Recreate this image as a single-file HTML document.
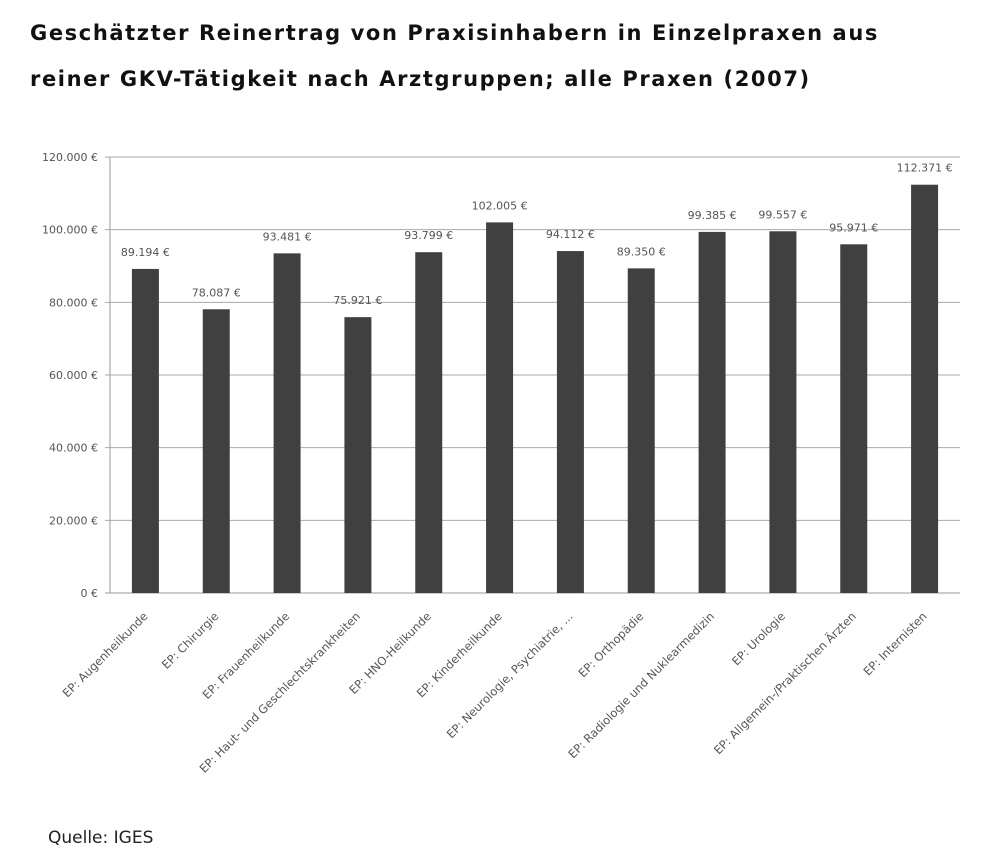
<!DOCTYPE html>
<html><head><meta charset="utf-8"><style>
body{margin:0;background:#fff;width:1000px;height:863px;overflow:hidden;font-family:"DejaVu Sans","Liberation Sans",sans-serif;}
h1{position:absolute;left:30px;top:10px;margin:0;font-size:21px;font-weight:bold;line-height:46px;color:#111;font-family:"DejaVu Sans",sans-serif;letter-spacing:1.6px;white-space:nowrap}
#src{position:absolute;left:48px;top:828px;font-size:17px;color:#222;font-family:"DejaVu Sans",sans-serif}
</style></head><body>
<h1>Geschätzter Reinertrag von Praxisinhabern in Einzelpraxen aus<br>reiner GKV-Tätigkeit nach Arztgruppen; alle Praxen (2007)</h1>
<svg id="chart" width="1000" height="863" style="position:absolute;left:0;top:0"></svg>
<div id="src">Quelle: IGES</div>
<script>
const categories=["EP: Augenheilkunde","EP: Chirurgie","EP: Frauenheilkunde","EP: Haut- und Geschlechtskrankheiten","EP: HNO-Heilkunde","EP: Kinderheilkunde","EP: Neurologie, Psychiatrie, ...","EP: Orthopädie","EP: Radiologie und Nuklearmedizin","EP: Urologie","EP: Allgemein-/Praktischen Ärzten","EP: Internisten"];
const values=[89194,78087,93481,75921,93799,102005,94112,89350,99385,99557,95971,112371];
const ticks=[0,20000,40000,60000,80000,100000,120000];
const NS="http://www.w3.org/2000/svg";
const svg=document.getElementById('chart');
const x0=110,x1=960,yTop=157,yBot=593,yMax=120000;
const slot=(x1-x0)/categories.length;
const y=v=>yBot-(v/yMax)*(yBot-yTop);
const xc=i=>x0+slot*(i+0.5);
const fmt=v=>v.toLocaleString('de-DE')+' €';
function mk(t,a){const e=document.createElementNS(NS,t);for(const k in a)e.setAttribute(k,a[k]);svg.appendChild(e);return e;}
ticks.forEach(t=>{
 const l=mk('line',{x1:x0-5,x2:x1,y1:y(t),y2:y(t),stroke:t===0?'#999':'#aaa','stroke-width':1});
 
 
 const tx=mk('text',{x:x0-12,y:y(t)+4,'text-anchor':'end','font-size':11,fill:'#555'});
 tx.textContent=fmt(t);
 
 
});
const ax=mk('line',{x1:x0,x2:x0,y1:yTop,y2:yBot,stroke:'#999'});


values.forEach((v,i)=>{
 const r=mk('rect',{x:xc(i)-13.5,y:y(v),width:27,height:yBot-y(v),fill:'#404040'});
 
 
 const t=mk('text',{x:xc(i),y:y(v)-13,'text-anchor':'middle','font-size':11,fill:'#555'});
 t.textContent=fmt(v);
 
 
 const c=mk('text',{x:0,y:0,'text-anchor':'end','font-size':11.5,fill:'#555',transform:`translate(${xc(i)+3},${yBot+24}) rotate(-45)`});
 c.textContent=categories[i];
 
 
});
</script>
</body></html>
